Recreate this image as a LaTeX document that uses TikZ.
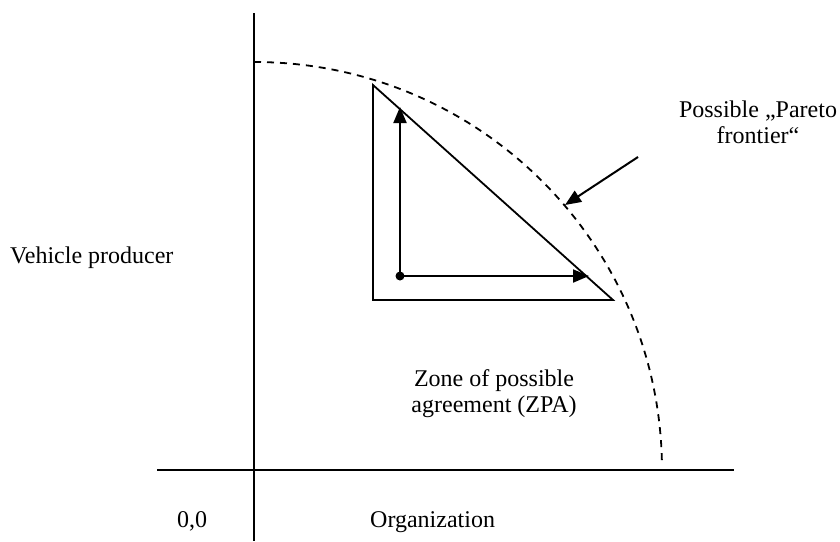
\documentclass[tikz,border=0pt]{standalone}
\usepackage{fontspec}
\setmainfont{Liberation Serif}
\usetikzlibrary{arrows.meta}
\begin{document}
\begin{tikzpicture}[x=1pt,y=-1pt,
  axis/.style={line width=2pt},
  edge/.style={line width=1.8pt},
  frontier/.style={line width=1.8pt,dash pattern=on 7pt off 6pt},
  arr/.style={line width=2pt,-{Triangle[length=16pt,width=13pt]}},
  lbl/.style={inner sep=0pt,font=\fontsize{24}{26}\selectfont}]
\useasboundingbox (0,0) rectangle (840,541);
% axes
\coordinate (yt) at (254,13);
\coordinate (yb) at (254,541);
\coordinate (xl) at (157,470);
\coordinate (xr) at (734,470);
\draw[axis] (yt) -- (yb);
\draw[axis] (xl) -- (xr);
% frontier arc (circle centred on origin)
\coordinate (o) at (254,470);
\draw[frontier] (254,62) arc[start angle=-90,end angle=-0.7,radius=408];
% triangle
\coordinate (ta) at (373,85);
\coordinate (tb) at (373,300);
\coordinate (tc) at (613,300);
\draw[edge,line join=miter] (ta) -- (tb) -- (tc) -- cycle;
% arrows from the dot
\coordinate (d) at (400,276);
\coordinate (up) at (400,107);
\coordinate (rt) at (589,276);
\draw[arr] (d) -- (up);
\draw[arr] (d) -- (rt);
\fill (d) circle[radius=4.5];
% pareto pointer
\coordinate (ps) at (638,157);
\coordinate (pe) at (565,205);
\draw[arr] (ps) -- (pe);
% labels
\node[lbl,anchor=base west] (vp) at (10,263) {Vehicle producer};
\node[lbl,align=center,anchor=base] (pf) at (758,143) {Possible „Pareto\\frontier“};
\node[lbl,align=center,anchor=base] (zpa) at (494,412) {Zone of possible\\agreement (ZPA)};
\node[lbl,anchor=base west] (oo) at (177,527) {0,0};
\node[lbl,anchor=base west] (org) at (370,527) {Organization};
\end{tikzpicture}
\end{document}
